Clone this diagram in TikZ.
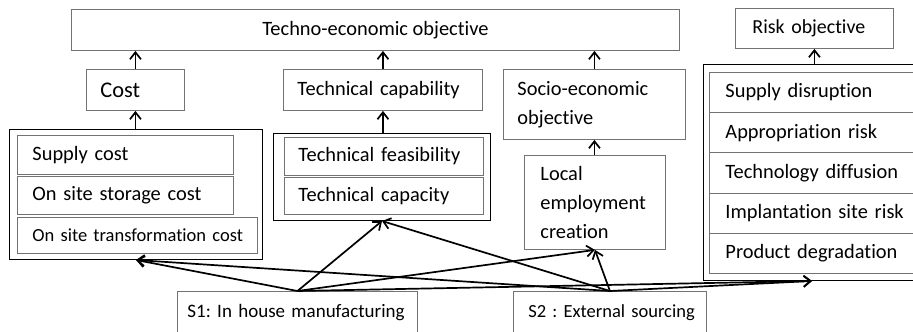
\documentclass[tikz,border=0pt]{standalone}
\usepackage{fontspec}
\setmainfont{Carlito}[Ligatures=NoCommon]
\usetikzlibrary{arrows.meta}
\frenchspacing

\tikzset{
  frame/.style={draw=black!55, line width=0.9pt, anchor=north west, inner xsep=14pt, inner ysep=0pt,
    font=\fontsize{20.4}{29}\selectfont},
  box/.style={frame, align=left,
    execute at begin node={\frenchspacing\rightskip=0pt plus 1fil minus 40pt\relax\hyphenpenalty=10000\relax}},
  grp/.style={draw=black, line width=1pt, anchor=north west, inner sep=0pt},
  small/.style={font=\fontsize{18.5}{29}\selectfont},
}

\begin{document}
\begin{tikzpicture}[x=1pt, y=-1pt, >={Straight Barb[length=7pt,width=11pt]}, link/.style={->, line width=1.7pt}]
    \clip (0,0) rectangle (913,332);

    % Objectives
    \node[frame, minimum width=608pt, minimum height=41pt] (techno) at (71,9) {Techno-economic objective};
    \node[box, text width=70pt, minimum height=41pt, font=\fontsize{22.4}{29}\selectfont] (cost) at (86,69) {Cost};
    \node[box, text width=171pt, minimum height=41pt] (techcap) at (283,69) {Technical capability};
    \node[box, text width=154pt, minimum height=70pt] (socio) at (503,69) {Socio-economic\\objective};
    \node[box, inner xsep=17pt, text width=124pt, minimum height=40pt, font=\fontsize{19.9}{29}\selectfont] (risk) at (735,8) {Risk objective};

    % Criteria groups
    \node[grp, minimum width=253pt, minimum height=130pt] (costgrp) at (9,129) {};
    \node[box, inner xsep=15pt, text width=186pt, minimum height=39pt] (supply) at (17,135) {Supply cost};
    \node[box, inner xsep=15pt, text width=186pt, minimum height=38pt] (storage) at (17,176) {On site storage cost};
    \node[box, small, inner xsep=15pt, text width=210pt, minimum height=36pt] (transf) at (17,217) {On site transformation cost};

    \node[grp, minimum width=217pt, minimum height=87pt] (techgrp) at (273,133) {};
    \node[box, text width=171pt, minimum height=38pt] (feas) at (284,137) {Technical feasibility};
    \node[box, text width=171pt, minimum height=37pt] (capa) at (284,177) {Technical capacity};

    \node[box, inner xsep=16pt, text width=109pt, minimum height=94pt] (local) at (524,155) {Local\\employment\\creation};

    \node[grp, minimum width=217pt, minimum height=216pt] (riskgrp) at (703,64) {};
    \foreach \t [count=\i] in {Supply disruption, Appropriation risk, Technology diffusion, Implantation site risk, Product degradation}
        \node[box, inner xsep=16pt, text width=178pt, minimum height=40.2pt] (r\i) at (709,{72+40.2*(\i-1)}) {\t};

    % Strategies
    \node[box, inner xsep=10pt, text width=220pt, minimum height=42pt, font=\fontsize{19}{29}\selectfont] (s1) at (177,291) {S1: In house manufacturing};
    \node[box, small, inner xsep=15pt, text width=163pt, minimum height=42pt] (s2) at (513,291) {S2 : External sourcing};

    % Hierarchy arrows
    \draw[link] (cost.north) -- (cost.north |- techno.south);
    \draw[link] (cost.south |- costgrp.north) -- (cost.south);
    \draw[link] (techcap.north) -- (techcap.north |- techno.south);
    \draw[link] (techcap.south |- techgrp.north) -- (techcap.south);
    \draw[link] (socio.north) -- (socio.north |- techno.south);
    \draw[link] (socio.south |- local.north) -- (socio.south);
    \draw[link] (risk.south |- riskgrp.north) -- (risk.south);

    % Strategy arrows
    \foreach \s in {s1, s2}
        \foreach \c in {costgrp, techgrp, local, riskgrp}
            \draw[link] (\s.north) -- (\c.south);
\end{tikzpicture}
\end{document}
